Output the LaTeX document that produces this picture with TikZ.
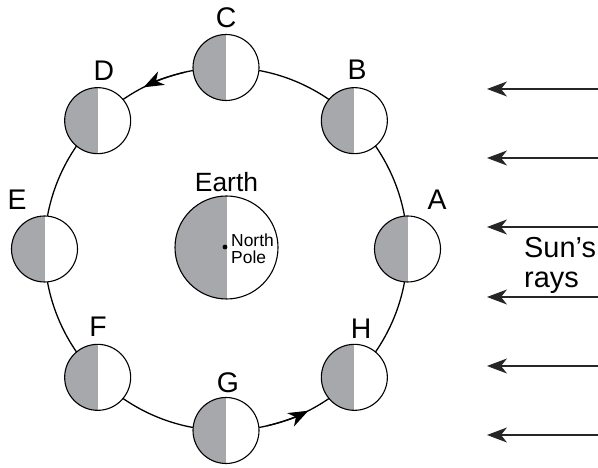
\documentclass[tikz,border=0pt]{standalone}
\usepackage{fontspec}
\setmainfont{Liberation Sans}
\usetikzlibrary{arrows.meta,calc}
\definecolor{moongray}{HTML}{A7A8AB}
\tikzset{
  body/.style={circle, draw=black, line width=1.1bp, fill=white, inner sep=0pt,
    path picture={\fill[moongray] (path picture bounding box.south west) rectangle (path picture bounding box.north);}},
  moon/.style={body, minimum size=66bp},
  planet/.style={body, minimum size=103bp},
  lab/.style={inner sep=0pt, font=\fontsize{28.5}{30}\selectfont},
  tip/.style={-{Stealth[length=20bp, width=15bp, inset=6bp]}},
  ray/.style={tip, line width=1.1bp, draw=black!85},
  orbitline/.style={line width=1.3bp}
}
\begin{document}
\begin{tikzpicture}[x=1bp, y=1bp]
\useasboundingbox (0,0) rectangle (598,468);
\coordinate (O) at (226,219);
\def\R{181.5}
% orbit
\draw[orbitline] (O) circle[radius=\R];
\draw[orbitline, tip] (O) ++(103:\R) arc[start angle=103, end angle=117, radius=\R];
\draw[orbitline, tip] (O) ++(-77:\R) arc[start angle=-77, end angle=-63, radius=\R];
% moons
\node[moon] (mA) at ($(O)+(0:\R)$) {};
\node[moon] (mB) at ($(O)+(45:\R)$) {};
\node[moon] (mC) at ($(O)+(90:\R)$) {};
\node[moon] (mD) at ($(O)+(135:\R)$) {};
\node[moon] (mE) at ($(O)+(180:\R)$) {};
\node[moon] (mF) at ($(O)+(225:\R)$) {};
\node[moon] (mG) at ($(O)+(270:\R)$) {};
\node[moon] (mH) at ($(O)+(315:\R)$) {};
% labels
\node[lab] (lA) at (437,268) {A};
\node[lab] (lB) at (357,398) {B};
\node[lab] (lC) at (226,450) {C};
\node[lab] (lD) at (104,397) {D};
\node[lab] (lE) at (17,268) {E};
\node[lab] (lF) at (98,141) {F};
\node[lab] (lG) at (228,85) {G};
\node[lab] (lH) at (361,139) {H};
% Earth
\node[planet] (earth) at (226.5,220.5) {};
\node[lab, font=\fontsize{26.5}{28}\selectfont] (earthlab) at (226.5,285.5) {Earth};
\fill (225,221) circle[radius=2.4bp];
\node[inner sep=0pt, anchor=west, align=left, font=\fontsize{17.5}{17}\selectfont] (np) at (231,219.4) {North\\Pole};
% Sun's rays
\foreach \y [count=\i] in {89,158,227,297,366,435} {
  \coordinate (rs\i) at (598,468-\y);
  \coordinate (re\i) at (487,468-\y);
  \draw[ray] (rs\i) -- (re\i);
}
\node[inner sep=0pt, anchor=west, align=left, font=\fontsize{29}{30}\selectfont] (sun) at (524,202.4) {Sun’s\\rays};
\end{tikzpicture}
\end{document}
